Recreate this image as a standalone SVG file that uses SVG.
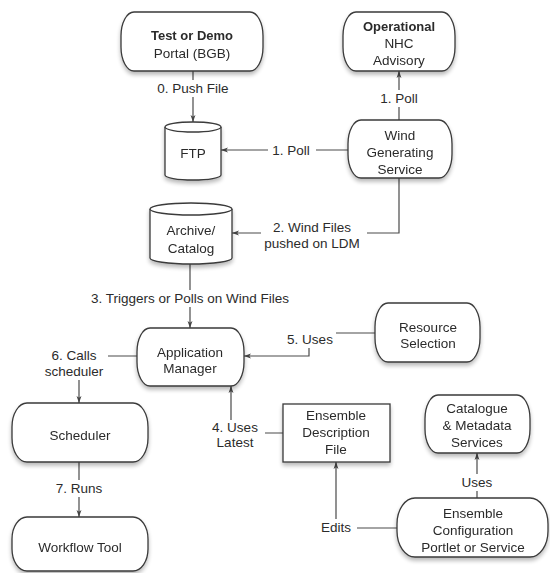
<svg xmlns="http://www.w3.org/2000/svg" width="550" height="573" viewBox="0 0 550 573">
  <defs>
    <filter id="shadow" x="-20%" y="-20%" width="140%" height="150%">
      <feGaussianBlur in="SourceAlpha" stdDeviation="2"/>
      <feOffset dx="0" dy="3" result="b"/>
      <feComponentTransfer><feFuncA type="linear" slope="0.28"/></feComponentTransfer>
      <feMerge><feMergeNode/><feMergeNode in="SourceGraphic"/></feMerge>
    </filter>
    <marker id="arrow" viewBox="0 0 10 10" refX="10" refY="5" markerWidth="7" markerHeight="7" orient="auto" markerUnits="userSpaceOnUse">
      <path d="M0,1.5 L10,5 L0,8.5 L2.5,5 Z" fill="#444"/>
    </marker>
    <style>
      .shape { fill: #fff; stroke: #3a3a3a; stroke-width: 1.3; }
      .node { filter: url(#shadow); }
      .t { font-family: "Liberation Sans", Arial, sans-serif; font-size: 13.5px; fill: #2b2b2b; text-anchor: middle; }
      .b { font-weight: bold; font-size: 13px; }
      .edge { fill: none; stroke: #4a4a4a; stroke-width: 1.2; }
      .lblbg { fill: #fff; stroke: none; }
    </style>
  </defs>
  <rect width="550" height="573" fill="#fff"/>

  <!-- connectors and their labels -->
  <g id="connectors">
    <path class="edge" d="M193,71 V122" marker-end="url(#arrow)"/>
    <path class="edge" d="M399,120 V71" marker-end="url(#arrow)"/>
    <path class="edge" d="M348,150 H221" marker-end="url(#arrow)"/>
    <path class="edge" d="M399,178 V233 H232" marker-end="url(#arrow)"/>
    <path class="edge" d="M190,264 V328" marker-end="url(#arrow)"/>
    <path class="edge" d="M375,333 H309 V356 H244" marker-end="url(#arrow)"/>
    <path class="edge" d="M137,356 H79 V403" marker-end="url(#arrow)"/>
    <path class="edge" d="M79,462 V517" marker-end="url(#arrow)"/>
    <path class="edge" d="M283,433 H231 V386" marker-end="url(#arrow)"/>
    <path class="edge" d="M397,528 H336 V462" marker-end="url(#arrow)"/>
    <path class="edge" d="M477,498 V453" marker-end="url(#arrow)"/>

    <rect class="lblbg" x="158" y="80" width="70" height="17"/>
    <text class="t" x="193" y="93">0. Push File</text>
    <rect class="lblbg" x="375" y="90" width="48" height="17"/>
    <text class="t" x="399" y="103">1. Poll</text>
    <rect class="lblbg" x="268" y="142" width="48" height="17"/>
    <text class="t" x="291" y="155">1. Poll</text>
    <rect class="lblbg" x="261" y="219" width="106" height="33"/>
    <text class="t" x="312" y="232">2. Wind Files</text>
    <text class="t" x="312" y="248">pushed on LDM</text>
    <rect class="lblbg" x="86" y="290" width="208" height="17"/>
    <text class="t" x="190" y="303">3. Triggers or Polls on Wind Files</text>
    <rect class="lblbg" x="284" y="331" width="52" height="17"/>
    <text class="t" x="310" y="344">5. Uses</text>
    <rect class="lblbg" x="40" y="347" width="68" height="33"/>
    <text class="t" x="74" y="360">6. Calls</text>
    <text class="t" x="74" y="376">scheduler</text>
    <rect class="lblbg" x="54" y="480" width="50" height="17"/>
    <text class="t" x="79" y="493">7. Runs</text>
    <rect class="lblbg" x="207" y="420" width="58" height="32"/>
    <text class="t" x="235" y="432">4. Uses</text>
    <text class="t" x="235" y="447">Latest</text>
    <rect class="lblbg" x="316" y="519" width="41" height="17"/>
    <text class="t" x="336" y="532">Edits</text>
    <rect class="lblbg" x="457" y="474" width="40" height="17"/>
    <text class="t" x="477" y="487">Uses</text>
  </g>

  <g id="portal" class="node">
    <rect class="shape" x="121" y="12" width="142" height="59" rx="13" ry="24"/>
    <text class="t b" x="192" y="40">Test or Demo</text>
    <text class="t" x="192" y="58">Portal (BGB)</text>
  </g>

  <g id="nhc" class="node">
    <rect class="shape" x="343" y="12" width="112" height="59" rx="13" ry="24"/>
    <text class="t b" x="399" y="31">Operational</text>
    <text class="t" x="399" y="48">NHC</text>
    <text class="t" x="399" y="65">Advisory</text>
  </g>

  <g id="ftp" class="node">
    <path class="shape" d="M165,127 A28,5 0 0 1 221,127 V175 A28,5 0 0 1 165,175 Z"/>
    <path class="shape" d="M165,127 A28,5 0 0 0 221,127" fill="none"/>
    <text class="t" x="193" y="158">FTP</text>
  </g>

  <g id="wind" class="node">
    <rect class="shape" x="348" y="120" width="104" height="58" rx="13" ry="24"/>
    <text class="t" x="400" y="140">Wind</text>
    <text class="t" x="400" y="157">Generating</text>
    <text class="t" x="400" y="174">Service</text>
  </g>

  <g id="archive" class="node">
    <path class="shape" d="M150,209 A41,6 0 0 1 232,209 V258 A41,6 0 0 1 150,258 Z"/>
    <path class="shape" d="M150,209 A41,6 0 0 0 232,209" fill="none"/>
    <text class="t" x="191" y="235">Archive/</text>
    <text class="t" x="191" y="253">Catalog</text>
  </g>

  <g id="appmgr" class="node">
    <rect class="shape" x="137" y="328" width="107" height="58" rx="13" ry="24"/>
    <text class="t" x="190" y="357">Application</text>
    <text class="t" x="190" y="373">Manager</text>
  </g>

  <g id="resource" class="node">
    <rect class="shape" x="375" y="303" width="105" height="59" rx="13" ry="24"/>
    <text class="t" x="428" y="332">Resource</text>
    <text class="t" x="428" y="348">Selection</text>
  </g>

  <g id="scheduler" class="node">
    <rect class="shape" x="12" y="403" width="136" height="59" rx="15" ry="24"/>
    <text class="t" x="80" y="440">Scheduler</text>
  </g>

  <g id="workflow" class="node">
    <rect class="shape" x="12" y="517" width="136" height="54" rx="15" ry="22"/>
    <text class="t" x="80" y="552">Workflow Tool</text>
  </g>

  <g id="edf" class="node">
    <rect class="shape" x="283" y="404" width="107" height="58"/>
    <text class="t" x="336" y="420">Ensemble</text>
    <text class="t" x="336" y="437">Description</text>
    <text class="t" x="336" y="454">File</text>
  </g>

  <g id="catalogue" class="node">
    <rect class="shape" x="425" y="395" width="105" height="58" rx="13" ry="24"/>
    <text class="t" x="477" y="413">Catalogue</text>
    <text class="t" x="477" y="430">&amp; Metadata</text>
    <text class="t" x="477" y="447">Services</text>
  </g>

  <g id="config" class="node">
    <rect class="shape" x="397" y="498" width="151" height="59" rx="18" ry="26"/>
    <text class="t" x="473" y="518">Ensemble</text>
    <text class="t" x="473" y="535">Configuration</text>
    <text class="t" x="473" y="552">Portlet or Service</text>
  </g>
</svg>
